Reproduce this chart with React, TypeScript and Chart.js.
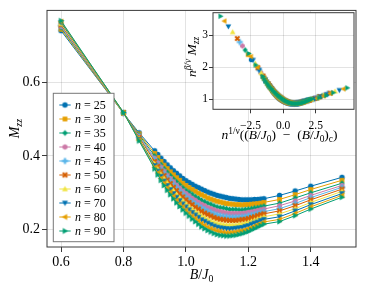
import React, { useEffect, useRef } from 'react';
import { Chart, registerables } from 'chart.js';

Chart.register(...registerables);

// ---------------- data ----------------
const nValues = [25, 30, 35, 40, 45, 50, 60, 70, 80, 90];

const fieldValues = [0.6, 0.8, 0.85, 0.9, 0.91, 0.92, 0.93, 0.94, 0.95, 0.96, 0.97, 0.98, 0.99, 1.0, 1.01, 1.02, 1.03, 1.04, 1.05, 1.06, 1.07, 1.08, 1.09, 1.1, 1.11, 1.12, 1.13, 1.14, 1.15, 1.16, 1.17, 1.18, 1.19, 1.2, 1.21, 1.22, 1.23, 1.24, 1.25, 1.3, 1.35, 1.4, 1.5];

const mzzN25 = [0.740, 0.516, 0.463, 0.414, 0.404, 0.394, 0.385, 0.376, 0.368, 0.360, 0.353, 0.346, 0.339, 0.333, 0.328, 0.323, 0.318, 0.314, 0.310, 0.306, 0.302, 0.299, 0.296, 0.293, 0.291, 0.289, 0.287, 0.285, 0.284, 0.283, 0.282, 0.281, 0.281, 0.281, 0.281, 0.282, 0.282, 0.283, 0.284, 0.293, 0.305, 0.318, 0.342];
const mzzN30 = [0.744, 0.516, 0.460, 0.407, 0.396, 0.385, 0.375, 0.366, 0.357, 0.349, 0.341, 0.334, 0.326, 0.320, 0.314, 0.309, 0.304, 0.299, 0.295, 0.291, 0.286, 0.283, 0.280, 0.277, 0.275, 0.273, 0.271, 0.270, 0.269, 0.268, 0.268, 0.267, 0.268, 0.268, 0.269, 0.270, 0.271, 0.272, 0.274, 0.282, 0.295, 0.309, 0.334];
const mzzN35 = [0.748, 0.517, 0.457, 0.400, 0.388, 0.377, 0.366, 0.356, 0.347, 0.338, 0.330, 0.322, 0.314, 0.307, 0.302, 0.296, 0.290, 0.285, 0.280, 0.276, 0.272, 0.269, 0.265, 0.262, 0.260, 0.259, 0.257, 0.255, 0.255, 0.255, 0.254, 0.254, 0.255, 0.256, 0.257, 0.259, 0.260, 0.262, 0.264, 0.272, 0.286, 0.300, 0.326];
const mzzN40 = [0.751, 0.517, 0.454, 0.394, 0.382, 0.370, 0.359, 0.348, 0.339, 0.330, 0.321, 0.313, 0.305, 0.298, 0.292, 0.285, 0.280, 0.274, 0.269, 0.265, 0.260, 0.257, 0.254, 0.251, 0.249, 0.247, 0.245, 0.244, 0.244, 0.244, 0.244, 0.244, 0.245, 0.247, 0.248, 0.250, 0.252, 0.254, 0.256, 0.265, 0.278, 0.293, 0.320];
const mzzN45 = [0.754, 0.517, 0.452, 0.390, 0.377, 0.364, 0.353, 0.342, 0.332, 0.322, 0.313, 0.305, 0.297, 0.289, 0.283, 0.276, 0.270, 0.265, 0.259, 0.255, 0.250, 0.247, 0.243, 0.240, 0.238, 0.236, 0.235, 0.234, 0.234, 0.234, 0.234, 0.235, 0.236, 0.238, 0.240, 0.242, 0.244, 0.247, 0.249, 0.257, 0.271, 0.287, 0.315];
const mzzN50 = [0.756, 0.517, 0.450, 0.385, 0.372, 0.359, 0.347, 0.335, 0.325, 0.315, 0.306, 0.297, 0.289, 0.281, 0.274, 0.268, 0.261, 0.256, 0.250, 0.245, 0.241, 0.237, 0.233, 0.230, 0.228, 0.227, 0.226, 0.225, 0.225, 0.225, 0.226, 0.227, 0.228, 0.230, 0.233, 0.235, 0.238, 0.241, 0.243, 0.251, 0.265, 0.281, 0.310];
const mzzN60 = [0.759, 0.517, 0.447, 0.379, 0.365, 0.351, 0.339, 0.327, 0.316, 0.306, 0.296, 0.287, 0.279, 0.271, 0.263, 0.256, 0.250, 0.244, 0.238, 0.233, 0.228, 0.224, 0.221, 0.218, 0.216, 0.214, 0.213, 0.213, 0.213, 0.213, 0.215, 0.216, 0.218, 0.220, 0.223, 0.226, 0.229, 0.232, 0.235, 0.243, 0.257, 0.274, 0.304];
const mzzN70 = [0.762, 0.518, 0.445, 0.374, 0.359, 0.345, 0.332, 0.320, 0.309, 0.298, 0.288, 0.279, 0.270, 0.262, 0.254, 0.247, 0.240, 0.234, 0.227, 0.223, 0.218, 0.214, 0.210, 0.207, 0.205, 0.204, 0.203, 0.202, 0.203, 0.204, 0.205, 0.206, 0.209, 0.211, 0.215, 0.218, 0.221, 0.225, 0.228, 0.235, 0.251, 0.268, 0.298];
const mzzN80 = [0.765, 0.518, 0.443, 0.369, 0.354, 0.339, 0.326, 0.313, 0.302, 0.291, 0.280, 0.270, 0.262, 0.253, 0.245, 0.237, 0.231, 0.224, 0.217, 0.212, 0.207, 0.203, 0.200, 0.197, 0.195, 0.193, 0.192, 0.192, 0.193, 0.194, 0.196, 0.197, 0.200, 0.203, 0.206, 0.210, 0.214, 0.217, 0.221, 0.228, 0.244, 0.262, 0.293];
const mzzN90 = [0.767, 0.518, 0.441, 0.365, 0.349, 0.334, 0.320, 0.307, 0.295, 0.284, 0.273, 0.263, 0.254, 0.245, 0.237, 0.229, 0.222, 0.215, 0.208, 0.203, 0.198, 0.194, 0.190, 0.187, 0.185, 0.184, 0.183, 0.183, 0.184, 0.185, 0.187, 0.189, 0.192, 0.195, 0.199, 0.203, 0.207, 0.211, 0.215, 0.222, 0.238, 0.256, 0.288];

const mzzSeries = [mzzN25, mzzN30, mzzN35, mzzN40, mzzN45, mzzN50, mzzN60, mzzN70, mzzN80, mzzN90];

// finite-size scaling parameters used for the inset collapse
const criticalField = 1.044;
const inverseNu = 0.529;
const betaOverNu = 0.343;

const mainXTicks = [0.6, 0.8, 1.0, 1.2, 1.4];
const mainYTicks = [0.2, 0.4, 0.6];
const insetXTicks = [-2.5, 0, 2.5];
const insetYTicks = [1, 2, 3];

// ---------------- styles ----------------
const seriesColors = ['#0072B2', '#E69F00', '#009E73', '#CC79A7', '#56B4E9', '#D55E00', '#F0E442', '#0072B2', '#E69F00', '#009E73'];
const markerShapes = ['circle', 'rect', 'diamond', 'hexagon', 'cross', 'xcross', 'utriangle', 'dtriangle', 'ltriangle', 'rtriangle'];
const FONT = '"Liberation Serif", "Times New Roman", serif';
const gridColor = 'rgba(0,0,0,0.11)';
const spineColor = '#3a3a3a';

type Seg = { t: string; i?: boolean; s?: 'sup' | 'sub' };

function segFont(seg: Seg, size: number) {
  const fs = seg.s ? size * 0.7 : size;
  return `${seg.i ? 'italic ' : ''}${fs}px ${FONT}`;
}

function drawRich(ctx: CanvasRenderingContext2D, segs: Seg[], x: number, y: number, size: number, align: 'left' | 'center', rotate = false) {
  ctx.save();
  ctx.translate(x, y);
  if (rotate) ctx.rotate(-Math.PI / 2);
  ctx.textBaseline = 'alphabetic';
  ctx.textAlign = 'left';
  ctx.fillStyle = '#000';
  const widths = segs.map((s) => {
    ctx.font = segFont(s, size);
    return ctx.measureText(s.t).width;
  });
  const total = widths.reduce((a, b) => a + b, 0);
  let cx = align === 'center' ? -total / 2 : 0;
  segs.forEach((s, k) => {
    ctx.font = segFont(s, size);
    const dy = s.s === 'sup' ? -size * 0.4 : s.s === 'sub' ? size * 0.22 : 0;
    ctx.fillText(s.t, cx, dy);
    cx += widths[k];
  });
  ctx.restore();
}

function makeMarker(shape: string, color: string, size: number): HTMLCanvasElement {
  const c = document.createElement('canvas');
  const dim = Math.ceil(size) + 3;
  c.width = dim;
  c.height = dim;
  const ctx = c.getContext('2d') as CanvasRenderingContext2D;
  const m = dim / 2;
  const r = size / 2;
  ctx.fillStyle = color;
  ctx.beginPath();
  const poly = (pts: number[][]) => {
    ctx.moveTo(m + pts[0][0], m + pts[0][1]);
    for (let k = 1; k < pts.length; k++) ctx.lineTo(m + pts[k][0], m + pts[k][1]);
    ctx.closePath();
  };
  const rot45 = (pts: number[][]) => pts.map(([a, b]) => [(a - b) * Math.SQRT1_2, (a + b) * Math.SQRT1_2]);
  const a = r * 1.15;
  const w = r * 0.4;
  const crossPts = [[-w, -a], [w, -a], [w, -w], [a, -w], [a, w], [w, w], [w, a], [-w, a], [-w, w], [-a, w], [-a, -w], [-w, -w]];
  switch (shape) {
    case 'circle':
      ctx.arc(m, m, r, 0, Math.PI * 2);
      break;
    case 'rect': {
      const h = r * 0.88;
      ctx.rect(m - h, m - h, 2 * h, 2 * h);
      break;
    }
    case 'diamond': {
      const h = r * 1.15;
      poly([[0, -h], [h * 0.85, 0], [0, h], [-h * 0.85, 0]]);
      break;
    }
    case 'hexagon': {
      const pts: number[][] = [];
      for (let k = 0; k < 6; k++) {
        const ang = -Math.PI / 2 + (k * Math.PI) / 3;
        pts.push([r * 1.05 * Math.cos(ang), r * 1.05 * Math.sin(ang)]);
      }
      poly(pts);
      break;
    }
    case 'cross':
      poly(crossPts);
      break;
    case 'xcross':
      poly(rot45(crossPts));
      break;
    case 'utriangle':
      poly([[0, -r * 1.15], [r * 1.1, r * 0.8], [-r * 1.1, r * 0.8]]);
      break;
    case 'dtriangle':
      poly([[0, r * 1.15], [r * 1.1, -r * 0.8], [-r * 1.1, -r * 0.8]]);
      break;
    case 'ltriangle':
      poly([[-r * 1.15, 0], [r * 0.8, -r * 1.1], [r * 0.8, r * 1.1]]);
      break;
    case 'rtriangle':
      poly([[r * 1.15, 0], [-r * 0.8, -r * 1.1], [-r * 0.8, r * 1.1]]);
      break;
    default:
      ctx.arc(m, m, r, 0, Math.PI * 2);
  }
  ctx.fill();
  return c;
}

export default function App() {
  const mainRef = useRef<HTMLCanvasElement>(null);
  const insetRef = useRef<HTMLCanvasElement>(null);

  useEffect(() => {
    if (!mainRef.current || !insetRef.current) return;
    const mainMarkers = nValues.map((_, i) => makeMarker(markerShapes[i], seriesColors[i], 5.4));
    const insetMarkers = nValues.map((_, i) => makeMarker(markerShapes[i], seriesColors[i], 5.2));

    const mainDatasets = mzzSeries.map((vals, i) => ({
      label: `n = ${nValues[i]}`,
      data: vals.map((v, k) => ({ x: fieldValues[k], y: v })),
      borderColor: seriesColors[i],
      backgroundColor: seriesColors[i],
      borderWidth: 1,
      pointStyle: mainMarkers[i] as any,
      pointRadius: 3,
      pointHoverRadius: 3,
      tension: 0,
      order: nValues.length - 1 - i,
    }));

    const insetDatasets = mzzSeries.map((vals, i) => ({
      label: `n = ${nValues[i]}`,
      data: vals.map((v, k) => ({
        x: Math.pow(nValues[i], inverseNu) * (fieldValues[k] - criticalField),
        y: Math.pow(nValues[i], betaOverNu) * v,
      })),
      borderColor: seriesColors[i],
      backgroundColor: seriesColors[i],
      pointStyle: insetMarkers[i] as any,
      pointRadius: 3,
      showLine: false,
      order: nValues.length - 1 - i,
    }));

    const mainDecor = {
      id: 'mainDecor',
      afterDraw(chart: any) {
        const { ctx, chartArea: ca } = chart;
        ctx.save();
        ctx.strokeStyle = spineColor;
        ctx.lineWidth = 1;
        ctx.strokeRect(ca.left, ca.top, ca.right - ca.left, ca.bottom - ca.top);
        // legend box
        const lx = ca.left + 6.3;
        const lw = 60.7;
        const lh = 148.4;
        const ly = ca.bottom - 5.3 - lh;
        ctx.fillStyle = '#ffffff';
        ctx.fillRect(lx, ly, lw, lh);
        ctx.strokeStyle = '#777777';
        ctx.strokeRect(lx, ly, lw, lh);
        nValues.forEach((n, i) => {
          const ry = ly + 11.7 + i * 14;
          ctx.strokeStyle = seriesColors[i];
          ctx.lineWidth = 1;
          ctx.beginPath();
          ctx.moveTo(lx + 6, ry);
          ctx.lineTo(lx + 17.4, ry);
          ctx.stroke();
          const mk = mainMarkers[i];
          ctx.drawImage(mk, lx + 11.7 - mk.width / 2, ry - mk.height / 2);
          drawRich(ctx, [{ t: 'n', i: true }, { t: ' = ' }, { t: String(n) }], lx + 21.7, ry + 4, 12, 'left');
        });
        ctx.restore();
        // axis titles
        drawRich(ctx, [{ t: 'B', i: true }, { t: '/' }, { t: 'J', i: true }, { t: '0', s: 'sub' }], (ca.left + ca.right) / 2, 279, 14, 'center');
        drawRich(ctx, [{ t: 'M', i: true }, { t: 'zz', i: true, s: 'sub' }], 18.5, (ca.top + ca.bottom) / 2, 14, 'center', true);
      },
    };

    const main = new Chart(mainRef.current, {
      type: 'line',
      data: { datasets: mainDatasets as any },
      options: {
        animation: false,
        responsive: false,
        devicePixelRatio: 1,
        layout: { padding: { top: 9, right: 10, left: 0, bottom: 0 } },
        plugins: { legend: { display: false }, tooltip: { enabled: false } },
        scales: {
          x: {
            type: 'linear',
            min: 0.555,
            max: 1.545,
            afterBuildTicks: (s: any) => {
              s.ticks = mainXTicks.map((v) => ({ value: v }));
            },
            afterFit: (s: any) => {
              s.height = 45;
            },
            grid: { color: gridColor, lineWidth: 1, drawTicks: true, tickLength: 5, tickColor: spineColor, tickWidth: 1 },
            border: { display: false },
            ticks: {
              color: '#000',
              font: { family: FONT, size: 14 },
              padding: 2,
              maxRotation: 0,
              autoSkip: false,
              callback: (v: any) => Number(v).toFixed(1),
            },
          },
          y: {
            type: 'linear',
            min: 0.153,
            max: 0.795,
            afterBuildTicks: (s: any) => {
              s.ticks = mainYTicks.map((v) => ({ value: v }));
            },
            afterFit: (s: any) => {
              s.width = 47;
            },
            grid: { color: gridColor, lineWidth: 1, drawTicks: true, tickLength: 5, tickColor: spineColor, tickWidth: 1 },
            border: { display: false },
            ticks: {
              color: '#000',
              font: { family: FONT, size: 14 },
              padding: 2,
              autoSkip: false,
              callback: (v: any) => Number(v).toFixed(1),
            },
          },
        },
      },
      plugins: [mainDecor],
    });

    const insetDecor = {
      id: 'insetDecor',
      beforeDraw(chart: any) {
        const { ctx, chartArea: ca } = chart;
        ctx.save();
        ctx.fillStyle = '#ffffff';
        ctx.fillRect(ca.left, ca.top, ca.right - ca.left, ca.bottom - ca.top);
        ctx.restore();
      },
      afterDraw(chart: any) {
        const { ctx, chartArea: ca } = chart;
        ctx.save();
        ctx.strokeStyle = spineColor;
        ctx.lineWidth = 1;
        ctx.strokeRect(ca.left, ca.top, ca.right - ca.left, ca.bottom - ca.top);
        ctx.restore();
        drawRich(
          ctx,
          [
            { t: 'n', i: true },
            { t: '1/ν', s: 'sup' },
            { t: '((' },
            { t: 'B', i: true },
            { t: '/' },
            { t: 'J', i: true },
            { t: '0', s: 'sub' },
            { t: ')  −  (' },
            { t: 'B', i: true },
            { t: '/' },
            { t: 'J', i: true },
            { t: '0', s: 'sub' },
            { t: ')' },
            { t: 'c', s: 'sub' },
            { t: ')' },
          ],
          (ca.left + ca.right) / 2 - 4,
          139,
          13.5,
          'center'
        );
        drawRich(
          ctx,
          [
            { t: 'n', i: true },
            { t: 'β/ν', i: true, s: 'sup' },
            { t: ' M', i: true },
            { t: 'zz', i: true, s: 'sub' },
          ],
          16,
          (ca.top + ca.bottom) / 2 - 4,
          13.5,
          'center',
          true
        );
      },
    };

    const inset = new Chart(insetRef.current, {
      type: 'scatter',
      data: { datasets: insetDatasets as any },
      options: {
        animation: false,
        responsive: false,
        devicePixelRatio: 1,
        layout: { padding: { top: 12.7, right: 12, left: 0, bottom: 0 } },
        plugins: { legend: { display: false }, tooltip: { enabled: false } },
        scales: {
          x: {
            type: 'linear',
            min: -5.38,
            max: 5.44,
            afterBuildTicks: (s: any) => {
              s.ticks = insetXTicks.map((v) => ({ value: v }));
            },
            afterFit: (s: any) => {
              s.height = 40.7;
            },
            grid: { color: gridColor, lineWidth: 1, drawTicks: true, tickLength: 4, tickColor: spineColor, tickWidth: 1 },
            border: { display: false },
            ticks: {
              color: '#000',
              font: { family: FONT, size: 11.5 },
              padding: 6,
              maxRotation: 0,
              autoSkip: false,
              callback: (v: any) => {
                const num = Number(v);
                return (num < 0 ? '−' : '') + Math.abs(num).toFixed(1);
              },
            },
          },
          y: {
            type: 'linear',
            min: 0.68,
            max: 3.7,
            afterBuildTicks: (s: any) => {
              s.ticks = insetYTicks.map((v) => ({ value: v }));
            },
            afterFit: (s: any) => {
              s.width = 33;
            },
            grid: { color: gridColor, lineWidth: 1, drawTicks: true, tickLength: 4, tickColor: spineColor, tickWidth: 1 },
            border: { display: false },
            ticks: {
              color: '#000',
              font: { family: FONT, size: 11.5 },
              padding: 1,
              autoSkip: false,
              callback: (v: any) => String(v),
            },
          },
        },
      },
      plugins: [insetDecor],
    });

    return () => {
      main.destroy();
      inset.destroy();
    };
  }, []);

  return (
    <div style={{ position: 'fixed', left: 0, top: 0, width: 366, height: 292, background: '#ffffff' }}>
      <canvas ref={mainRef} width={366} height={292} style={{ position: 'absolute', left: 0, top: 0 }} />
      <canvas ref={insetRef} width={186} height={150} style={{ position: 'absolute', left: 180, top: 0 }} />
    </div>
  );
}
